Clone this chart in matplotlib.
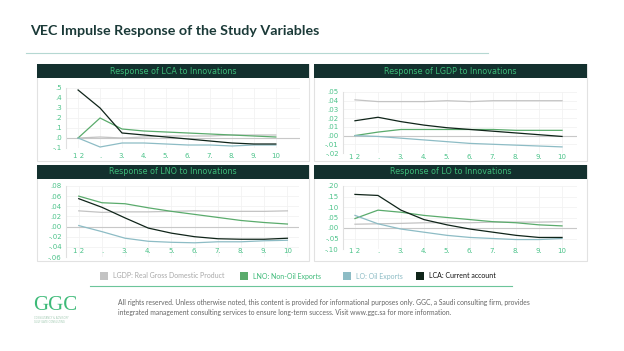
import matplotlib
matplotlib.use("Agg")
from matplotlib import pyplot as plt
from matplotlib.patches import Rectangle
from matplotlib.lines import Line2D
from matplotlib.transforms import blended_transform_factory

W, H = 624, 351

periods = [1, 2, 3, 4, 5, 6, 7, 8, 9, 10]
period_labels = ["1 2", ".", "3.", "4.", "5.", "6.", "7.", "8.", "9.", "10"]

series_names = ["LGDP: Real Gross Domestic Product", "LNO: Non-Oil Exports",
                "LO: Oil Exports", "LCA: Current account"]
series_colors = ["#c3c3c3", "#5aab6c", "#8dbcc5", "#0f2419"]

# response of LCA
lca_lgdp = [0.0, 0.01, 0.0, 0.01, 0.02, 0.02, 0.02, 0.03, 0.03, 0.03]
lca_lno = [0.0, 0.20, 0.09, 0.07, 0.06, 0.05, 0.04, 0.03, 0.02, 0.01]
lca_lo = [0.0, -0.09, -0.05, -0.05, -0.06, -0.07, -0.07, -0.08, -0.07, -0.07]
lca_lca = [0.48, 0.30, 0.05, 0.03, 0.01, -0.01, -0.03, -0.05, -0.06, -0.06]

# response of LGDP
lgdp_lgdp = [0.041, 0.039, 0.039, 0.039, 0.040, 0.039, 0.040, 0.040, 0.040, 0.040]
lgdp_lno = [0.0, 0.004, 0.007, 0.007, 0.007, 0.007, 0.007, 0.006, 0.006, 0.006]
lgdp_lo = [0.0, -0.001, -0.003, -0.005, -0.007, -0.009, -0.010, -0.011, -0.012, -0.013]
lgdp_lca = [0.017, 0.021, 0.016, 0.012, 0.009, 0.007, 0.005, 0.003, 0.001, -0.001]

# response of LNO
lno_lgdp = [0.031, 0.028, 0.029, 0.029, 0.030, 0.031, 0.030, 0.030, 0.030, 0.031]
lno_lno = [0.060, 0.047, 0.045, 0.037, 0.030, 0.024, 0.018, 0.012, 0.008, 0.005]
lno_lo = [0.002, -0.010, -0.023, -0.029, -0.031, -0.032, -0.030, -0.030, -0.028, -0.027]
lno_lca = [0.055, 0.038, 0.017, -0.003, -0.013, -0.020, -0.024, -0.025, -0.025, -0.023]

# response of LO
lo_lgdp = [0.018, 0.020, 0.022, 0.025, 0.025, 0.025, 0.028, 0.028, 0.028, 0.030]
lo_lno = [0.045, 0.085, 0.075, 0.060, 0.050, 0.040, 0.030, 0.025, 0.015, 0.010]
lo_lo = [0.060, 0.020, -0.005, -0.020, -0.035, -0.045, -0.050, -0.055, -0.055, -0.050]
lo_lca = [0.160, 0.155, 0.085, 0.040, 0.015, -0.005, -0.020, -0.035, -0.045, -0.045]

panels = [
    dict(title="Response of LCA to Innovations", data=[lca_lgdp, lca_lno, lca_lo, lca_lca],
         box=(37, 64, 309, 161), ax=(66, 88, 300, 148), ylim=(-0.1, 0.5), step=0.1, dec=1,
         xlim=(0.45, 11.1), lab_y=-0.13),
    dict(title="Response of LGDP to Innovations", data=[lgdp_lgdp, lgdp_lno, lgdp_lo, lgdp_lca],
         box=(314, 64, 587, 161), ax=(343, 92, 577, 153), ylim=(-0.02, 0.05), step=0.01, dec=2,
         xlim=(0.48, 10.65), lab_y=-0.07),
    dict(title="Response of LNO to Innovations", data=[lno_lgdp, lno_lno, lno_lo, lno_lca],
         box=(37, 165, 309, 261), ax=(66, 186, 299, 257), ylim=(-0.06, 0.08), step=0.02, dec=2,
         xlim=(0.45, 10.5), lab_y=0.085),
    dict(title="Response of LO to Innovations", data=[lo_lgdp, lo_lno, lo_lo, lo_lca],
         box=(314, 165, 587, 261), ax=(343, 186, 577, 249), ylim=(-0.10, 0.20), step=0.05, dec=2,
         xlim=(0.48, 10.65), lab_y=-0.03),
]

tick_green = "#4cc38a"
head_dark = "#13302e"


def fx(px):
    return px / W


def fy(py):
    return 1 - py / H


def fmt(v, dec):
    s = f"{v:.{dec}f}"
    if s.startswith("-0."):
        s = "-" + s[2:]
    elif s.startswith("0."):
        s = s[1:]
    return s


fig = plt.figure(figsize=(W / 100, H / 100), dpi=100)
fig.patch.set_facecolor("white")

# title and rule
fig.text(fx(30), fy(31), "VEC Impulse Response of the Study Variables", fontsize=10.3,
         fontweight="bold", family="Lato", color="#1b3a38", va="center", ha="left")
fig.add_artist(Line2D([fx(26), fx(488)], [fy(53), fy(53)], color="#b5d8d2", lw=0.8))

for p in panels:
    x0, y0, x1, y1 = p["box"]
    fig.add_artist(Rectangle((fx(x0), fy(y1)), fx(x1 - x0), (y1 - y0) / H,
                             facecolor="white", edgecolor="#e2e2e2", lw=0.8, zorder=0))
    fig.add_artist(Rectangle((fx(x0), fy(y0 + 14)), fx(x1 - x0), 14 / H,
                             facecolor=head_dark, edgecolor="none", zorder=0))
    fig.text(fx((x0 + x1) / 2), fy(y0 + 7), p["title"], fontsize=5.8, color="#3dba78",
             ha="center", va="center", family="DejaVu Sans")

    a0, b0, a1, b1 = p["ax"]
    ax = fig.add_axes([fx(a0), fy(b1), fx(a1 - a0), (b1 - b0) / H])
    ax.set_zorder(2)
    ax.set_facecolor("none")
    lo_, hi_ = p["ylim"]
    n = int(round((hi_ - lo_) / p["step"]))
    yt = [lo_ + i * p["step"] for i in range(n + 1)]
    ax.set_yticks(yt)
    ax.set_yticklabels([fmt(v, p["dec"]) for v in yt])
    ax.set_ylim(lo_, hi_)
    ax.set_xlim(*p["xlim"])
    ax.set_xticks(periods)
    ax.set_xticklabels([])
    ax.tick_params(axis="both", length=0, labelsize=5, labelcolor=tick_green, pad=3)
    ax.grid(True, color="#f2f2f2", lw=0.6)
    ax.set_axisbelow(True)
    for side in ["top", "right", "bottom"]:
        ax.spines[side].set_visible(False)
    ax.spines["left"].set_color("#e0e0e0")
    ax.spines["left"].set_linewidth(0.8)
    ax.axhline(0, color="#c8c8c8", lw=0.8, zorder=1)
    for vals, col in zip(p["data"], series_colors):
        ax.plot(periods, vals, color=col, lw=0.9, zorder=3)
    tr = blended_transform_factory(ax.transData, ax.transAxes)
    for xp, lab in zip(periods, period_labels):
        ax.text(xp, p["lab_y"], lab, transform=tr, fontsize=5, color=tick_green,
                ha="center", va="center", clip_on=False)

# legend
leg_sq = [104, 244, 347, 420]
leg_txt_col = ["#a8a8a8", "#3dba78", "#8dbcc5", "#111111"]
for sx, name, col, tcol in zip(leg_sq, series_names, series_colors, leg_txt_col):
    fig.add_artist(Rectangle((fx(sx - 4), fy(280)), fx(8), 8 / H, facecolor=col,
                             edgecolor="none"))
    fig.text(fx(sx + 9), fy(276), name, fontsize=5, color=tcol, va="center", ha="left",
             family="Lato")
fig.add_artist(Line2D([fx(90), fx(512)], [fy(286), fy(286)], color="#6cc59a", lw=0.8))

# footer
fig.text(fx(33), fy(305), "GGC", fontsize=15, family="Liberation Serif", color="#3dba78",
         va="center", ha="left")
fig.text(fx(34), fy(318), "CONSULTANCY & ADVISORY", fontsize=1.8, color="#9fc8b0",
         va="center", ha="left")
fig.text(fx(34), fy(322), "GULF GATE CONSULTING", fontsize=1.8, color="#9fc8b0",
         va="center", ha="left")
fig.text(fx(118), fy(302), "All rights reserved. Unless otherwise noted, this content is provided "
         "for informational purposes only. GGC, a Saudi consulting firm, provides",
         fontsize=4.9, color="#666666", va="center", ha="left", family="Lato")
fig.text(fx(118), fy(313), "integrated management consulting services to ensure long-term "
         "success. Visit www.ggc.sa for more information.",
         fontsize=4.9, color="#666666", va="center", ha="left", family="Lato")

fig.savefig("out.png", dpi=100, facecolor="white")
